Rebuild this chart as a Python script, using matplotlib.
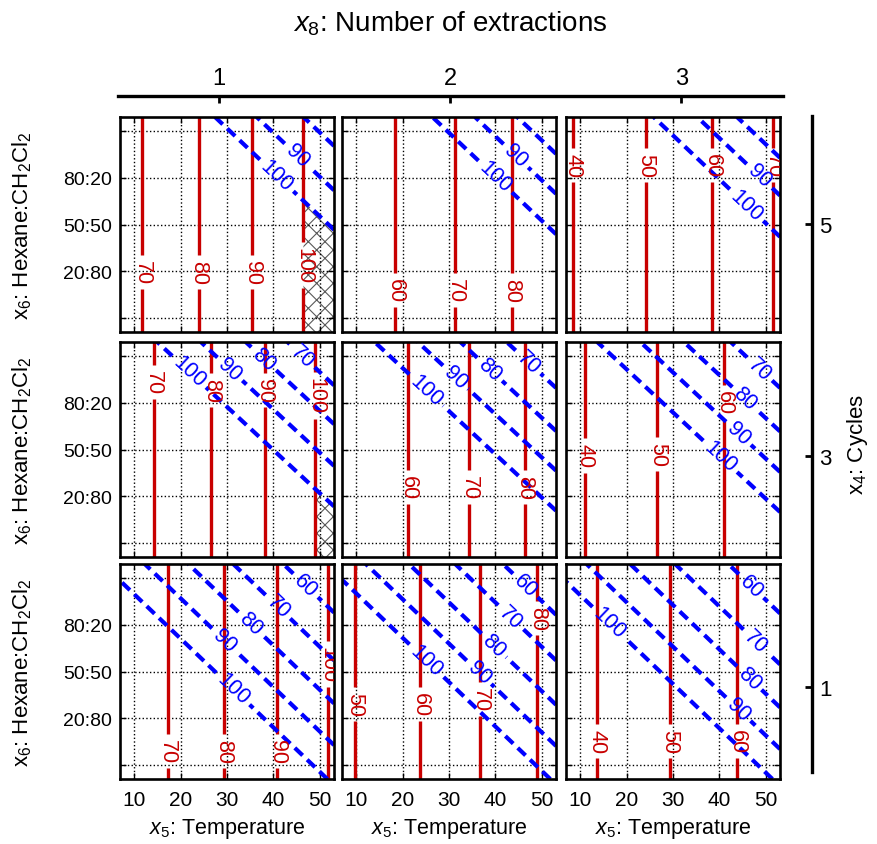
import numpy as np
import matplotlib
matplotlib.use('Agg')
import matplotlib.pyplot as plt

plt.rcParams['font.family'] = ['Liberation Sans', 'DejaVu Sans']
plt.rcParams['mathtext.fontset'] = 'custom'
plt.rcParams['mathtext.rm'] = 'Liberation Sans'
plt.rcParams['mathtext.it'] = 'Liberation Sans:italic'
plt.rcParams['hatch.color'] = '0.35'
plt.rcParams['hatch.linewidth'] = 0.8
plt.rcParams['lines.dashed_pattern'] = [2.6, 1.5]

# rows = x4 cycles, columns = x8 number of extractions
extractions = [1, 2, 3]
cycles = [5, 3, 1]
temp_ticks = [10, 20, 30, 40, 50]
solvent_ticks = [-2, -1, 0, 1, 2]
solvent_labels = ['', '20:80', '50:50', '80:20', '']

# red (solid) response: levels and the temperature of each contour
red_levels = [[[70, 80, 90, 100], [60, 70, 80], [40, 50, 60, 70]],
              [[70, 80, 90, 100], [60, 70, 80], [40, 50, 60]],
              [[70, 80, 90, 100], [50, 60, 70, 80], [40, 50, 60]]]
red_temp = [[[11.7, 23.9, 35.4, 46.5], [18.4, 31.4, 43.6], [8.4, 24.1, 38.5, 51.6]],
            [[14.2, 26.6, 38.1, 49.1], [21.2, 34.3, 46.4], [10.9, 26.6, 41.0]],
            [[17.2, 29.3, 40.9, 51.8], [9.6, 23.8, 36.8, 49.1], [13.7, 29.3, 43.8]]]

# blue (dashed) response: levels and temperature where each contour crosses 50:50
blue_levels = [[100, 90, 80], [100, 90, 80, 70], [100, 90, 80, 70, 60]]
blue_temp = [[[51.9, 60.9, 71.0], [50.9, 60.1, 69.2], [50.3, 59.7, 68.3]],
             [[39.9, 49.3, 59.0, 68.0], [38.9, 48.2, 57.4, 67.4], [38.6, 47.9, 57.3, 67.4]],
             [[27.4, 36.5, 45.9, 55.6, 66.4], [27.6, 36.3, 45.6, 55.6, 65.9], [27.2, 35.6, 45.0, 54.7, 66.2]]]
blue_shift = [10.6, 10.8, 10.5]   # deg C the blue contours move per solvent step

# where the contour labels sit
red_label_h = [[[-1.02, -1.02, -1.02, -0.87], [-1.41, -1.41, -1.41], [1.28, 1.28, 1.28, 1.28]],
               [[1.45, 1.27, 1.27, 1.16], [-0.81, -0.81, -0.81], [-0.13, -0.09, 1.02]],
               [[-1.71, -1.71, -1.71, 0.16], [-0.70, -0.70, -0.60, 1.16], [-1.49, -1.49, -1.49]]]
blue_label_pos = [[[(40.1, 0.99), (44.1, 1.38)], [(39.6, 0.99), (43.9, 1.42)], [(45.9, 0.42), (48.0, 0.99)]],
                  [[(21.7, 1.66), (29.7, 1.63), (36.9, 1.84), (45.9, 1.98)],
                   [(25.0, 1.27), (30.7, 1.48), (38.2, 1.66), (47.1, 1.88)],
                   [(39.7, -0.2), (43.7, 0.3), (45.1, 1.05), (48.4, 1.7)]],
                  [[(30.8, -0.42), (28.6, 0.59), (34.4, 0.95), (40.5, 1.34), (46.6, 1.81)],
                   [(23.9, 0.12), (35.4, -0.13), (38.9, 0.48), (42.5, 1.09), (46.4, 1.84)],
                   [(15.6, 0.98), (43.7, -0.85), (45.5, -0.24), (47.6, 0.62), (46.9, 1.84)]]]


def field(v, pos, lev):
    # piecewise linear through the read contour positions, continued past the ends
    pos = np.asarray(pos, float)
    lev = np.asarray(lev, float)
    s0 = (lev[1] - lev[0]) / (pos[1] - pos[0])
    s1 = (lev[-1] - lev[-2]) / (pos[-1] - pos[-2])
    p = np.r_[pos[0] - 200, pos, pos[-1] + 200]
    l = np.r_[lev[0] - 200 * s0, lev, lev[-1] + 200 * s1]
    return np.interp(v, p, l)


FW, FH = 877, 845
fig = plt.figure(figsize=(FW / 100, FH / 100), dpi=100)

lefts = [120, 342, 566]
tops = [118, 343, 565]
pw, ph = 214, 215

T = np.linspace(6.9, 53.1, 500)
S = np.linspace(-2.31, 2.31, 500)
TT, SS = np.meshgrid(T, S)

for i in range(3):
    for j in range(3):
        ax = fig.add_axes([lefts[j] / FW, 1 - (tops[i] + ph) / FH, pw / FW, ph / FH])
        R = field(TT, red_temp[i][j], red_levels[i][j])
        B = field(TT + SS * blue_shift[i], blue_temp[i][j], blue_levels[i])

        # region where both responses reach 100
        ax.contourf(TT, SS, np.minimum(R, B), levels=[100, 1e6], colors='none', hatches=['xx'])

        cr = ax.contour(TT, SS, R, levels=red_levels[i][j], colors='#c80000',
                        linewidths=2.4, linestyles='solid')
        cb = ax.contour(TT, SS, B, levels=sorted(blue_levels[i]), colors='#0000ff',
                        linewidths=3.0, linestyles='dashed')
        ax.clabel(cr, fmt='%d', fontsize=15.5, inline=True, inline_spacing=5,
                  manual=list(zip(red_temp[i][j], red_label_h[i][j])))
        ax.clabel(cb, fmt='%d', fontsize=15.5, inline=True, inline_spacing=5,
                  manual=blue_label_pos[i][j])

        ax.set_xlim(6.9, 53.1)
        ax.set_ylim(-2.31, 2.31)
        ax.set_xticks(temp_ticks)
        ax.set_yticks(solvent_ticks)
        ax.grid(True, linestyle=':', color='k', linewidth=1.0)
        ax.tick_params(direction='in', length=4, width=1, top=True, right=True)
        for sp in ax.spines.values():
            sp.set_linewidth(1.9)

        if i == 2:
            ax.set_xticklabels([str(t) for t in temp_ticks], fontsize=15)
            ax.tick_params(axis='x', pad=8)
            ax.set_xlabel(r'$x_5$: Temperature', fontsize=15.5)
            ax.xaxis.set_label_coords(0.5, -0.17)
        else:
            ax.set_xticklabels([])
        if j == 0:
            ax.set_yticklabels(solvent_labels, fontsize=14)
            ax.tick_params(axis='y', pad=6)
            ax.set_ylabel(r'$\mathrm{x_6}$: Hexane:CH$_2$Cl$_2$', fontsize=16)
            ax.yaxis.set_label_coords(-0.40, 0.5)
        else:
            ax.set_yticklabels([])

# top axis: number of extractions
axt = fig.add_axes([118 / FW, 1 - 97 / FH - 0.02, 665 / FW, 0.02])
axt.patch.set_visible(False)
for k in ['left', 'right', 'bottom']:
    axt.spines[k].set_visible(False)
axt.spines['top'].set_linewidth(2.4)
axt.set_xlim(0.563, 3.44)
axt.set_yticks([])
axt.xaxis.tick_top()
axt.set_xticks(extractions)
axt.tick_params(axis='x', direction='in', length=5, width=2, labelsize=17, pad=5)
axt.xaxis.set_label_position('top')
axt.set_xlabel(r'$x_8$: Number of extractions', fontsize=20, labelpad=26)

# right axis: cycles
axr = fig.add_axes([812 / FW - 0.02, 1 - 773 / FH, 0.02, 656 / FH])
axr.patch.set_visible(False)
for k in ['left', 'top', 'bottom']:
    axr.spines[k].set_visible(False)
axr.spines['right'].set_linewidth(2.4)
axr.set_ylim(0.27, 5.93)
axr.set_xticks([])
axr.yaxis.tick_right()
axr.set_yticks(cycles)
axr.tick_params(axis='y', direction='in', length=5, width=2, labelsize=16, pad=5)
axr.yaxis.set_label_position('right')
axr.set_ylabel(r'$\mathrm{x_4}$: Cycles', fontsize=16, labelpad=10)

fig.savefig('out.png', dpi=100)
